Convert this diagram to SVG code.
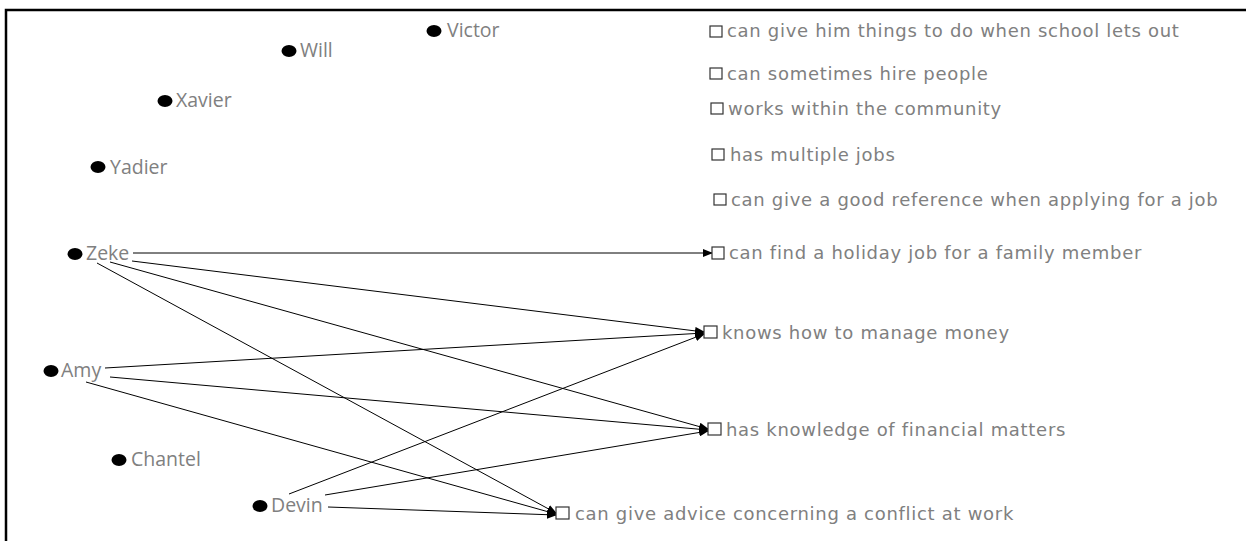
<svg xmlns="http://www.w3.org/2000/svg" width="1246" height="541" viewBox="0 0 1246 541">
<defs>
<style>
.dot{fill:#000}
.pl{font-family:"Open Sans","Noto Sans",sans-serif;font-size:19.5px;fill:#808080}
.box{fill:#fff;stroke:#333;stroke-width:1.2}
.al{font-family:"DejaVu Sans","Verdana",sans-serif;font-size:18px;letter-spacing:0.7px;fill:#808080}
.edge{stroke:#000;stroke-width:1;fill:none;marker-end:url(#ah)}
</style>
<marker id="ah" markerUnits="userSpaceOnUse" markerWidth="10" markerHeight="8" refX="9" refY="4" orient="auto">
<path d="M0,0 L10,4 L0,8 Z" fill="#000"/>
</marker>
</defs>
<rect width="1246" height="541" fill="#fff"/>
<path d="M6,541 V10 H1246" fill="none" stroke="#000" stroke-width="2.5"/>

<g id="connectors">
<line class="edge" x1="133" y1="253" x2="712" y2="253"/>
<line class="edge" x1="132" y1="261" x2="704" y2="332"/>
<line class="edge" x1="110" y1="262" x2="708" y2="429"/>
<line class="edge" x1="97" y1="263" x2="556" y2="513"/>
<line class="edge" x1="105" y1="368" x2="704" y2="333"/>
<line class="edge" x1="110" y1="377" x2="708" y2="430"/>
<line class="edge" x1="86" y1="382" x2="556" y2="514"/>
<line class="edge" x1="289" y1="494" x2="704" y2="334"/>
<line class="edge" x1="325" y1="495" x2="708" y2="431"/>
<line class="edge" x1="328" y1="507" x2="556" y2="515"/>
</g>

<g id="victor"><ellipse class="dot" cx="434" cy="31" rx="7.5" ry="6"/><text class="pl" x="447" y="37">Victor</text></g>
<g id="will"><ellipse class="dot" cx="289" cy="51" rx="7.5" ry="6"/><text class="pl" x="300" y="57">Will</text></g>
<g id="xavier"><ellipse class="dot" cx="165" cy="101" rx="7.5" ry="6"/><text class="pl" x="176" y="107">Xavier</text></g>
<g id="yadier"><ellipse class="dot" cx="98" cy="167" rx="7.5" ry="6"/><text class="pl" x="110" y="174">Yadier</text></g>
<g id="zeke"><ellipse class="dot" cx="75" cy="254" rx="7.5" ry="6"/><text class="pl" x="86" y="260">Zeke</text></g>
<g id="amy"><ellipse class="dot" cx="51" cy="371" rx="7.5" ry="6"/><text class="pl" x="61" y="377">Amy</text></g>
<g id="chantel"><ellipse class="dot" cx="119" cy="460" rx="7.5" ry="6"/><text class="pl" x="131" y="466">Chantel</text></g>
<g id="devin"><ellipse class="dot" cx="260" cy="506" rx="7.5" ry="6"/><text class="pl" x="271" y="512">Devin</text></g>

<g id="a1"><rect class="box" x="710" y="26" width="12" height="11"/><text class="al" x="727" y="37">can give him things to do when school lets out</text></g>
<g id="a2"><rect class="box" x="710" y="68" width="12" height="11"/><text class="al" x="727" y="80">can sometimes hire people</text></g>
<g id="a3"><rect class="box" x="711" y="103" width="12" height="11"/><text class="al" x="728" y="115">works within the community</text></g>
<g id="a4"><rect class="box" x="712" y="149" width="12" height="11"/><text class="al" x="730" y="161">has multiple jobs</text></g>
<g id="a5"><rect class="box" x="714" y="194" width="12" height="11"/><text class="al" x="731" y="206">can give a good reference when applying for a job</text></g>
<g id="a6"><rect class="box" x="712" y="247" width="12" height="12"/><text class="al" x="729" y="259">can find a holiday job for a family member</text></g>
<g id="a7"><rect class="box" x="704" y="326" width="13" height="12"/><text class="al" x="722" y="339">knows how to manage money</text></g>
<g id="a8"><rect class="box" x="708" y="423" width="13" height="12"/><text class="al" x="726" y="436">has knowledge of financial matters</text></g>
<g id="a9"><rect class="box" x="556" y="507" width="13" height="12"/><text class="al" x="575" y="520">can give advice concerning a conflict at work</text></g>
</svg>
